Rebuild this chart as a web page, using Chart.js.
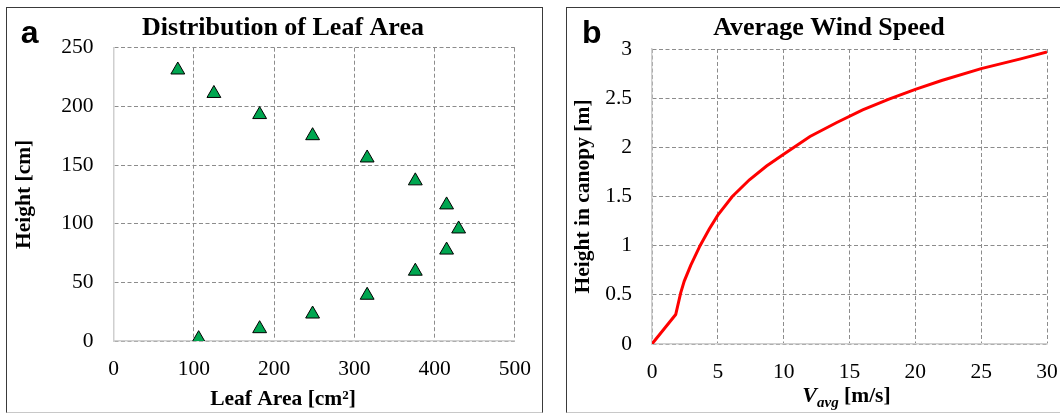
<!DOCTYPE html>
<html>
<head>
<meta charset="utf-8">
<script src="https://cdn.jsdelivr.net/npm/chart.js@4/dist/chart.umd.min.js"></script>
<style>
  html, body { margin: 0; padding: 0; background: #fff; overflow: hidden; }
  body { width: 1060px; height: 413px; position: relative; }
  .panel { position: absolute; box-sizing: border-box; border: 1.5px solid #3a3a3a; border-bottom: 1px solid #c8c8c8; }
  canvas { position: absolute; }
</style>
</head>
<body>
<div class="panel" style="left:6px; top:6.5px; width:536.5px; height:406px;"></div>
<div class="panel" style="left:566px; top:6.5px; width:540px; height:406px;"></div>
<canvas id="leafChart" width="534" height="405" style="left:7px; top:8px;"></canvas>
<canvas id="windChart" width="492" height="405" style="left:568px; top:8px;"></canvas>
<script>
// Panel a : distribution de la surface foliaire
const leafArea = [80, 125, 182, 248, 316, 376, 415, 430, 415, 376, 316, 248, 182, 106];
const leafHeight = [231, 211, 193, 175, 156, 136.5, 116, 95.5, 77.5, 59.5, 39, 23, 10.5, 2];
const leafXTicks = [0, 100, 200, 300, 400, 500];
const leafYTicks = [0, 50, 100, 150, 200, 250];

// Panel b : vitesse moyenne du vent
const windSpeed = [0, 1.8, 2.18, 2.45, 2.94, 3.65, 4.35, 5, 6.1, 7.4, 8.7, 10, 12, 14, 16, 18, 20, 22, 25, 28, 30];
const canopyHeight = [0, 0.30, 0.52, 0.64, 0.80, 1.00, 1.17, 1.31, 1.50, 1.67, 1.81, 1.93, 2.11, 2.25, 2.38, 2.49, 2.59, 2.68, 2.80, 2.90, 2.97];
const windXTicks = [0, 5, 10, 15, 20, 25, 30];
const windYTicks = [0, 0.5, 1, 1.5, 2, 2.5, 3];

const SERIF = '"Liberation Serif", "Times New Roman", serif';
const SANS = '"Liberation Sans", Arial, sans-serif';

// textes du panneau (lettre, titre, titres des axes)
const panelText = {
    id: 'panelText',
    afterDraw(chart, args, opts) {
        const ctx = chart.ctx;
        ctx.save();
        ctx.fillStyle = '#000';
        ctx.textBaseline = 'alphabetic';

        ctx.font = 'bold 32px ' + SANS;
        ctx.textAlign = 'left';
        ctx.fillText(opts.letter, opts.letterX, 35);

        ctx.font = 'bold 26px ' + SERIF;
        ctx.textAlign = 'center';
        ctx.fillText(opts.title, opts.titleX, 27);

        // titre axe x (morceaux avec indice éventuel)
        let total = 0;
        opts.xParts.forEach(p => { ctx.font = p.font; total += ctx.measureText(p.text).width; });
        let x = opts.xTitleX - total / 2;
        ctx.textAlign = 'left';
        opts.xParts.forEach(p => {
            ctx.font = p.font;
            ctx.fillText(p.text, x, opts.xTitleY + (p.dy || 0));
            x += ctx.measureText(p.text).width;
        });

        // titre axe y
        ctx.translate(opts.yTitleX, chart.chartArea.top + (chart.chartArea.bottom - chart.chartArea.top) / 2);
        ctx.rotate(-Math.PI / 2);
        ctx.font = 'bold 21.5px ' + SERIF;
        ctx.textAlign = 'center';
        ctx.fillText(opts.yTitle, 0, 0);
        ctx.restore();
    }
};

function axis(ticks, fitSize, isX) {
    return {
        type: 'linear',
        min: ticks[0],
        max: ticks[ticks.length - 1],
        afterBuildTicks: s => { s.ticks = ticks.map(v => ({ value: v })); },
        afterFit: s => {
            if (isX) {
                s.height = fitSize;
                // pas de marge auto pour les étiquettes extrêmes
                s.paddingLeft = 0;
                s.paddingRight = 0;
            } else {
                s.width = fitSize;
            }
        },
        grid: { color: '#8c8c8c', lineWidth: 1, drawTicks: false },
        // dash = pointillés de la grille, la bordure reste pleine
        border: { display: true, color: '#cfcfcf', width: 1.5, dash: [4, 2.5] },
        ticks: {
            color: '#000',
            font: { family: SERIF, size: 21.5 },
            padding: isX ? 15 : 20,
            callback: v => String(v)
        }
    };
}

const ctxA = document.getElementById('leafChart').getContext('2d');
new Chart(ctxA, {
    type: 'scatter',
    data: {
        datasets: [{
            data: leafArea.map((a, i) => ({ x: a, y: leafHeight[i] })),
            pointStyle: 'triangle',
            pointRadius: 8,
            backgroundColor: '#00a650',
            borderColor: '#000',
            borderWidth: 1
        }]
    },
    options: {
        responsive: false,
        animation: false,
        layout: { padding: { left: 0, right: 26.2, top: 39.7, bottom: 0 } },
        scales: {
            x: axis(leafXTicks, 72, true),
            y: axis(leafYTicks, 106.6, false)
        },
        plugins: {
            legend: { display: false },
            tooltip: { enabled: false },
            panelText: {
                letter: 'a', letterX: 13.7,
                title: 'Distribution of Leaf Area', titleX: 276,
                xTitleX: 276, xTitleY: 397,
                xParts: [{ text: 'Leaf Area [cm²]', font: 'bold 21.5px ' + SERIF }],
                yTitleX: 22.7, yTitle: 'Height [cm]'
            }
        }
    },
    plugins: [panelText]
});

const ctxB = document.getElementById('windChart').getContext('2d');
new Chart(ctxB, {
    type: 'scatter',
    data: {
        datasets: [{
            data: windSpeed.map((v, i) => ({ x: v, y: canopyHeight[i] })),
            showLine: true,
            borderColor: '#ff0000',
            borderWidth: 3,
            pointRadius: 0,
            tension: 0
        }]
    },
    options: {
        responsive: false,
        animation: false,
        layout: { padding: { left: 0, right: 13, top: 41, bottom: 0 } },
        scales: {
            x: axis(windXTicks, 69, true),
            y: axis(windYTicks, 84, false)
        },
        plugins: {
            legend: { display: false },
            tooltip: { enabled: false },
            panelText: {
                letter: 'b', letterX: 14,
                title: 'Average Wind Speed', titleX: 261,
                xTitleX: 278.5, xTitleY: 394,
                xParts: [
                    { text: 'V', font: 'italic bold 22px ' + SERIF },
                    { text: 'avg', font: 'italic bold 15px ' + SERIF, dy: 5 },
                    { text: ' [m/s]', font: 'bold 21.5px ' + SERIF }
                ],
                yTitleX: 21.2, yTitle: 'Height in canopy [m]'
            }
        }
    },
    plugins: [panelText]
});
</script>
</body>
</html>
